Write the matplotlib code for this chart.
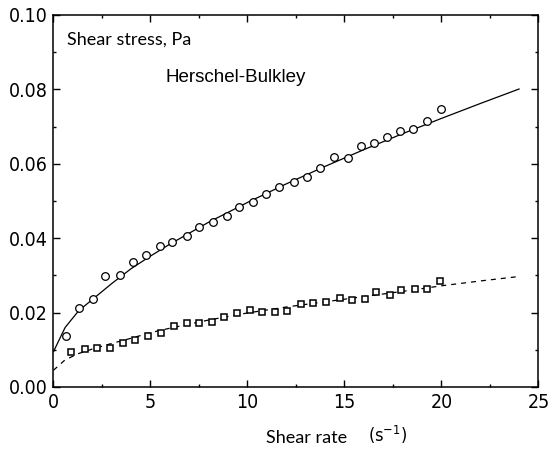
import matplotlib.pyplot as plt
from matplotlib.ticker import MultipleLocator

# measured points, upper series (circles)
rate_circ = [0.63, 1.31, 2.05, 2.67, 3.41, 4.10, 4.75, 5.49, 6.11, 6.87,
             7.52, 8.20, 8.93, 9.55, 10.27, 10.95, 11.64, 12.40, 13.05, 13.74,
             14.46, 15.16, 15.85, 16.54, 17.18, 17.86, 18.55, 19.27, 19.96]
stress_circ = [0.0137, 0.0212, 0.0237, 0.0298, 0.0302, 0.0335, 0.0355, 0.0378, 0.0389, 0.0407,
               0.0430, 0.0444, 0.0460, 0.0483, 0.0497, 0.0519, 0.0538, 0.0552, 0.0564, 0.0590,
               0.0618, 0.0616, 0.0647, 0.0655, 0.0671, 0.0689, 0.0693, 0.0715, 0.0746]

# measured points, lower series (squares)
rate_sq = [0.90, 1.62, 2.26, 2.91, 3.57, 4.20, 4.89, 5.52, 6.23, 6.87,
           7.52, 8.17, 8.79, 9.47, 10.13, 10.73, 11.42, 12.05, 12.74, 13.36,
           14.05, 14.77, 15.37, 16.06, 16.62, 17.35, 17.91, 18.63, 19.27, 19.92]
stress_sq = [0.0094, 0.0102, 0.0106, 0.0106, 0.0119, 0.0125, 0.0137, 0.0146, 0.0164, 0.0173,
             0.0173, 0.0175, 0.0187, 0.0198, 0.0207, 0.0201, 0.0201, 0.0205, 0.0223, 0.0225,
             0.0229, 0.0238, 0.0234, 0.0236, 0.0255, 0.0247, 0.0261, 0.0263, 0.0263, 0.0286]

# Herschel-Bulkley fit curves
fit_rate = [0, 0.6, 1.3, 2, 3, 4, 5, 6, 8, 10, 12, 14, 16, 18, 20, 22, 24]
fit_circ = [0.0095, 0.0160, 0.0205, 0.0235, 0.0278, 0.0318, 0.0352, 0.0384, 0.0443,
            0.0496, 0.0546, 0.0593, 0.0638, 0.0681, 0.0722, 0.0762, 0.0801]
fit_sq = [0.0045, 0.0073, 0.0090, 0.0102, 0.0117, 0.0131, 0.0146, 0.0158, 0.0180,
          0.0199, 0.0215, 0.0229, 0.0243, 0.0257, 0.0272, 0.0285, 0.0297]

fig = plt.figure(figsize=(5.48, 4.54), dpi=100)
ax = fig.add_axes([0.0976, 0.1476, 0.885, 0.8194])

ax.plot(fit_rate, fit_circ, color='black', lw=0.9, zorder=2)
ax.plot(fit_rate, fit_sq, color='black', lw=0.9, dashes=(4, 4), zorder=2)
ax.plot(rate_circ, stress_circ, 'o', ms=5.5, mfc='white', mec='black', mew=0.9, zorder=3)
ax.plot(rate_sq, stress_sq, 's', ms=5, mfc='white', mec='black', mew=1.1, zorder=3)

ax.set_xlim(0, 25)
ax.set_ylim(0, 0.10)
ax.xaxis.set_major_locator(MultipleLocator(5))
ax.xaxis.set_minor_locator(MultipleLocator(2.5))
ax.yaxis.set_major_locator(MultipleLocator(0.02))
ax.yaxis.set_minor_locator(MultipleLocator(0.01))
ax.yaxis.set_major_formatter(plt.FormatStrFormatter('%.2f'))
ax.tick_params(which='both', direction='in', top=True, right=True, width=1)
ax.tick_params(which='major', length=5)
ax.tick_params(which='minor', length=2.5)
ax.tick_params(axis='both', labelsize=14, pad=4)
for lab in ax.get_xticklabels() + ax.get_yticklabels():
    lab.set_fontstretch('condensed')
    lab.set_fontfamily('DejaVu Sans')
for s in ax.spines.values():
    s.set_linewidth(1.1)

ax.text(0.028, 0.955, 'Shear stress, Pa', transform=ax.transAxes, fontsize=13,
        family='Lato', va='top', ha='left')
ax.text(0.23, 0.855, 'Herschel-Bulkley', transform=ax.transAxes, fontsize=13.5,
        family='Liberation Sans', va='top', ha='left')
fig.text(0.485, 0.018, 'Shear rate', fontsize=13, family='Lato', ha='left', va='bottom')
fig.text(0.672, 0.018, r'(s$^{\mathregular{-1}}$)', fontsize=13, family='DejaVu Sans',
         stretch='condensed', ha='left', va='bottom')

fig.savefig('out.png', dpi=100)
